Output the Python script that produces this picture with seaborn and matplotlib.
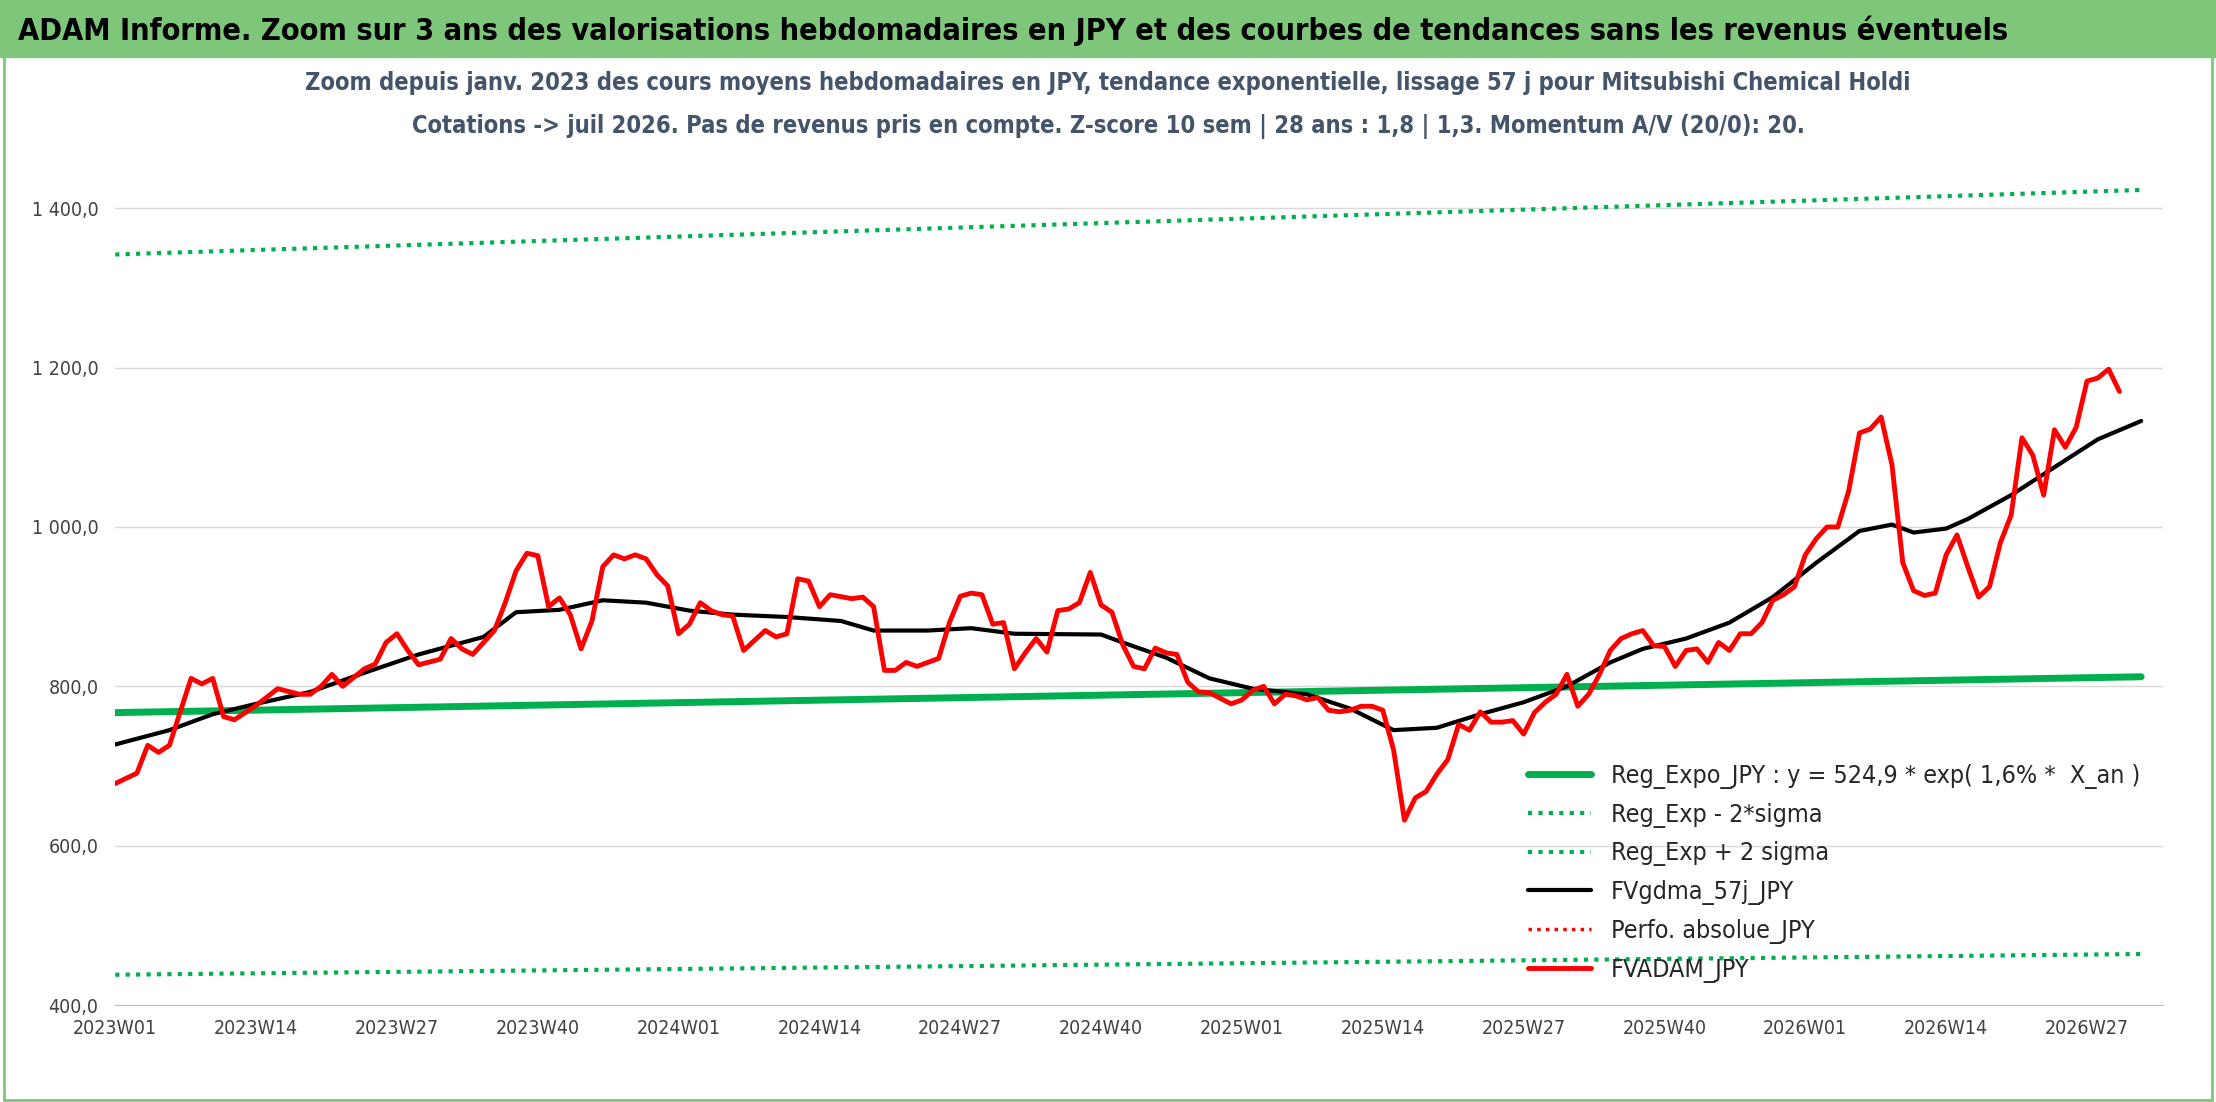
import numpy as np
import pandas as pd
import matplotlib
matplotlib.use('Agg')
import matplotlib.pyplot as plt
import seaborn as sns
from matplotlib.ticker import FuncFormatter

sns.set_style('white')
plt.rcParams['font.family'] = ['DejaVu Sans']
plt.rcParams['font.stretch'] = 'condensed'

# weekly prices (week index from 2023W01)
px_weeks = [0, 2, 3, 4, 5, 7, 8, 9, 10, 11, 13, 15, 17, 18, 19, 20, 21, 23, 24, 25, 26, 27, 28, 30,
            31, 32, 33, 35, 36, 37, 38, 39, 40, 41, 42, 43, 44, 45, 46, 47, 48, 49, 50, 51, 52, 53,
            54, 55, 56, 57, 58, 60, 61, 62, 63, 64, 65, 66, 68, 69, 70, 71, 72, 73, 74, 76, 77, 78,
            79, 80, 81, 82, 83, 84, 85, 86, 87, 88, 89, 90, 91, 92, 93, 94, 95, 96, 97, 98, 99, 100,
            101, 103, 104, 105, 106, 107, 108, 109, 110, 111, 112, 113, 114, 115, 116, 117, 118, 119,
            120, 121, 122, 123, 124, 125, 126, 127, 128, 129, 130, 131, 132, 133, 134, 135, 136, 137,
            138, 139, 140, 141, 142, 143, 144, 145, 146, 147, 148, 149, 150, 151, 152, 153, 154, 155,
            156, 157, 158, 159, 160, 161, 162, 163, 164, 165, 166, 167, 168, 169, 170, 171, 172, 173,
            174, 175, 176, 177, 178, 179, 180, 181, 182, 183, 184, 185]
px_values = [678, 691, 726, 717, 726, 810, 803, 810, 762, 758, 776, 797, 790, 790, 800, 815, 800, 822,
             828, 855, 866, 845, 827, 834, 860, 847, 840, 870, 905, 945, 967, 964, 900, 911, 890, 847,
             882, 950, 965, 960, 965, 960, 940, 926, 866, 878, 905, 895, 890, 888, 845, 870, 862, 866,
             935, 932, 900, 915, 910, 912, 900, 820, 820, 830, 825, 835, 880, 913, 917, 915, 878, 880,
             822, 842, 860, 843, 895, 897, 905, 943, 902, 893, 852, 825, 822, 848, 842, 840, 805, 793,
             792, 778, 783, 795, 800, 778, 790, 788, 783, 786, 770, 768, 770, 775, 775, 770, 720, 632,
             660, 668, 690, 708, 752, 745, 768, 755, 755, 757, 740, 767, 780, 790, 815, 775, 790, 815,
             845, 860, 866, 870, 851, 850, 825, 845, 847, 830, 855, 845, 866, 866, 880, 908, 915, 925,
             965, 985, 1000, 1000, 1045, 1118, 1123, 1138, 1078, 955, 920, 914, 917, 965, 990, 950,
             912, 925, 980, 1015, 1112, 1090, 1040, 1122, 1100, 1125, 1183, 1187, 1198, 1170]

# 57-day smoothed
ma_weeks = [0, 5, 9, 13, 18, 23, 28, 34, 37, 41, 45, 49, 53, 57, 62, 67, 70, 75, 79, 83, 91, 93, 97,
            101, 105, 110, 114, 118, 122, 126, 130, 134, 138, 141, 145, 149, 153, 157, 161, 164, 166,
            169, 171, 175, 179, 183, 187]
ma_values = [727, 745, 765, 778, 793, 817, 840, 862, 893, 896, 908, 905, 895, 890, 887, 882, 870, 870,
             873, 866, 865, 855, 836, 810, 797, 790, 772, 745, 748, 765, 780, 800, 830, 847, 860, 880,
             912, 955, 995, 1003, 993, 998, 1010, 1040, 1075, 1110, 1133]

# regression and bands (start / end)
reg_weeks = [0, 187]
reg_values = [767, 812]
low_values = [438, 464]
high_values = [1342, 1423]

tick_weeks = list(range(0, 188, 13))
tick_labels = ['2023W01', '2023W14', '2023W27', '2023W40', '2024W01', '2024W14', '2024W27', '2024W40',
               '2025W01', '2025W14', '2025W27', '2025W40', '2026W01', '2026W14', '2026W27']

fig = plt.figure(figsize=(22.16, 11.02), dpi=100)
fig.patches.append(plt.Rectangle((0, 0.948), 1, 0.052, transform=fig.transFigure,
                                 color='#7dc67a', zorder=0))
fig.patches.append(plt.Rectangle((0.002, 0.002), 0.996, 0.996, transform=fig.transFigure,
                                 fill=False, edgecolor='#7dc67a', lw=2))
fig.text(0.008, 0.972, "ADAM Informe. Zoom sur 3 ans des valorisations hebdomadaires en JPY et des courbes de tendances sans les revenus éventuels",
         fontsize=22, fontweight='bold', va='center', color='black')
fig.text(0.5, 0.925, "Zoom depuis janv. 2023 des cours moyens hebdomadaires en JPY, tendance exponentielle, lissage 57 j pour Mitsubishi Chemical Holdi",
         fontsize=17, fontweight='bold', ha='center', va='center', color='#44546a')
fig.text(0.5, 0.885, "Cotations -> juil 2026. Pas de revenus pris en compte. Z-score 10 sem | 28 ans : 1,8 | 1,3. Momentum A/V (20/0): 20.",
         fontsize=17, fontweight='bold', ha='center', va='center', color='#44546a')

ax = fig.add_axes([0.052, 0.088, 0.924, 0.77])
sns.lineplot(x=reg_weeks, y=reg_values, ax=ax, color='#00b050', lw=5, label='Reg_Expo_JPY : y = 524,9 * exp( 1,6% *  X_an )')
sns.lineplot(x=reg_weeks, y=low_values, ax=ax, color='#00b050', lw=3, ls=(0, (1, 1.5)), label='Reg_Exp - 2*sigma')
sns.lineplot(x=reg_weeks, y=high_values, ax=ax, color='#00b050', lw=3, ls=(0, (1, 1.5)), label='Reg_Exp + 2 sigma')
sns.lineplot(x=ma_weeks, y=ma_values, ax=ax, color='black', lw=3, label='FVgdma_57j_JPY')
ax.plot([], [], color='red', lw=2.5, ls=(0, (1, 1.5)), label='Perfo. absolue_JPY')
sns.lineplot(x=px_weeks, y=px_values, ax=ax, color='#ff0000', lw=3.5, label='FVADAM_JPY')

ax.set_xlim(0, 189)
ax.set_ylim(400, 1465)
ax.set_yticks([400, 600, 800, 1000, 1200, 1400])
ax.yaxis.set_major_formatter(FuncFormatter(lambda v, p: f"{int(v):,}".replace(',', ' ') + ',0'))
ax.set_xticks(tick_weeks)
ax.set_xticklabels(tick_labels)
ax.tick_params(labelsize=14, colors='#404040', length=0)
ax.tick_params(axis='x', pad=10)
ax.tick_params(axis='y', pad=12)
ax.grid(axis='y', color='#d9d9d9', lw=1)
for s in ['top', 'right', 'left']:
    ax.spines[s].set_visible(False)
ax.spines['bottom'].set_color('#bfbfbf')
ax.legend(loc='lower right', bbox_to_anchor=(1.0, 0.0), frameon=False, fontsize=18,
          handlelength=2.5, labelspacing=0.55)

fig.savefig('out.png', dpi=100)
